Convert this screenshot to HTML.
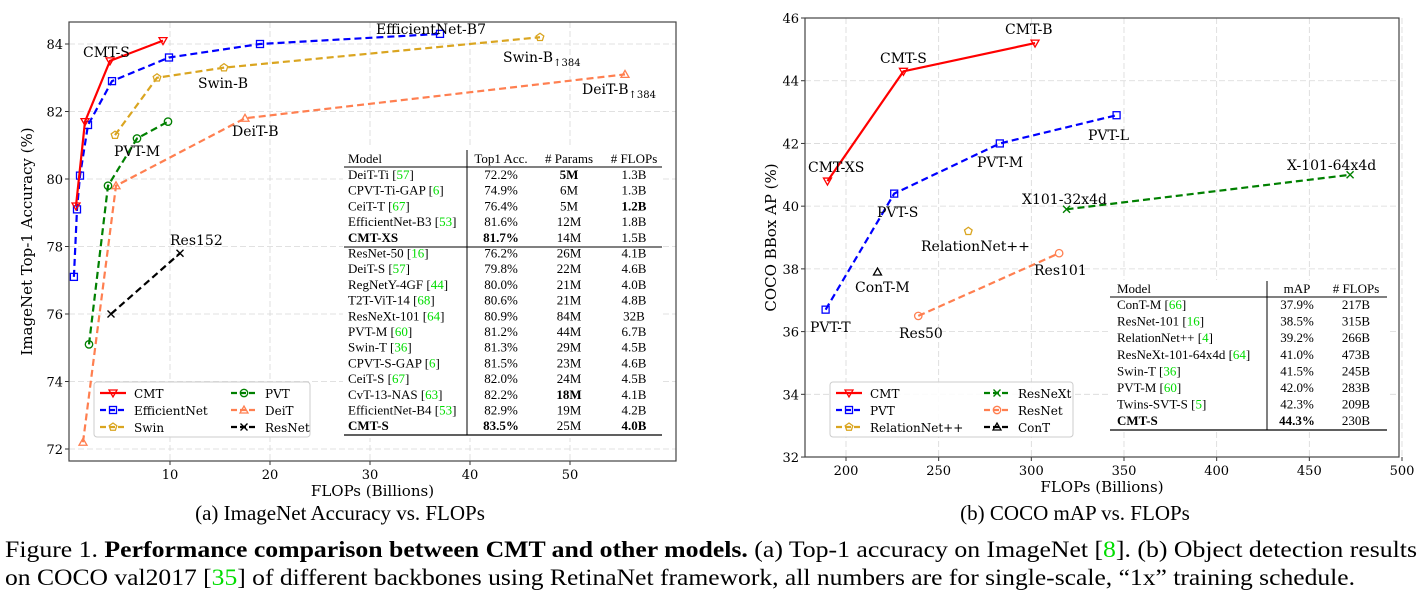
<!DOCTYPE html>
<html><head><meta charset="utf-8"><style>
body{margin:0;background:#fff;width:1422px;height:595px;overflow:hidden}
svg{display:block}
text{font-family:"Liberation Serif",serif}
.ann{font-family:"DejaVu Serif","Liberation Serif",serif;font-size:14px}
.tick{font-family:"DejaVu Serif","Liberation Serif",serif;font-size:13px}
.leg{font-family:"DejaVu Serif","Liberation Serif",serif;font-size:12px}
.axt{font-family:"DejaVu Serif","Liberation Serif",serif;font-size:15px}
.tb{font-size:13px}
.g{fill:#00dd00}
</style></head><body>
<svg id="fig" width="1422" height="595" viewBox="0 0 1422 595" xmlns="http://www.w3.org/2000/svg">
<g id="chartA"></g>
<g id="chartB"></g>
<text x="340" y="520" text-anchor="middle" font-size="21">(a) ImageNet Accuracy vs. FLOPs</text>
<text x="1075" y="520" text-anchor="middle" font-size="21">(b) COCO mAP vs. FLOPs</text>
<text x="5" y="557" font-size="23" textLength="1412" lengthAdjust="spacingAndGlyphs">Figure 1. <tspan font-weight="bold">Performance comparison between CMT and other models.</tspan> (a) Top-1 accuracy on ImageNet [<tspan class="g">8</tspan>]. (b) Object detection results</text>
<text x="5" y="585" font-size="23" textLength="1350" lengthAdjust="spacingAndGlyphs">on COCO val2017 [<tspan class="g">35</tspan>] of different backbones using RetinaNet framework, all numbers are for single-scale, “1x” training schedule.</text>
</svg>
<script>
// ---- Chart A data ----
const aCmtX=[0.6,1.5,4.0,9.3], aCmtY=[79.2,81.7,83.5,84.1];
const aEffX=[0.39,0.7,1.0,1.8,4.2,9.9,19,37], aEffY=[77.1,79.1,80.1,81.6,82.9,83.6,84.0,84.3];
const aSwinX=[4.5,8.7,15.4,47], aSwinY=[81.3,83.0,83.3,84.2];
const aPvtX=[1.9,3.8,6.7,9.8], aPvtY=[75.1,79.8,81.2,81.7];
const aDeitX=[1.3,4.6,17.5,55.5], aDeitY=[72.2,79.8,81.8,83.1];
const aResX=[4.1,11.0], aResY=[76.0,77.8];
const aXTicks=[10,20,30,40,50], aYTicks=[72,74,76,78,80,82,84];
// ---- Chart B data ----
const bCmtX=[190,231,302], bCmtY=[40.8,44.3,45.2];
const bPvtX=[189,226,283,346], bPvtY=[36.7,40.4,42.0,42.9];
const bRnxX=[319,472], bRnxY=[39.9,41.0];
const bResX=[239,315], bResY=[36.5,38.5];
const bRelX=[266], bRelY=[39.2];
const bConX=[217], bConY=[37.9];
const bXTicks=[200,250,300,350,400,450,500], bYTicks=[32,34,36,38,40,42,44,46];

const NS='http://www.w3.org/2000/svg';
function mk(p,tag,a,txt){const e=document.createElementNS(NS,tag);for(const k in a)e.setAttribute(k,a[k]);if(txt!==undefined)e.textContent=txt;p.appendChild(e);return e;}

function marker(g,type,x,y,c){
  let e;
  if(type==='tri_down') e=mk(g,'polygon',{points:`${x-4},${y-3} ${x+4},${y-3} ${x},${y+4}`,fill:'none',stroke:c,'stroke-width':1.3});
  else if(type==='tri_up') e=mk(g,'polygon',{points:`${x-4},${y+3} ${x+4},${y+3} ${x},${y-4}`,fill:'none',stroke:c,'stroke-width':1.3});
  else if(type==='sq') e=mk(g,'rect',{x:x-3.5,y:y-3.5,width:7,height:7,fill:'none',stroke:c,'stroke-width':1.3});
  else if(type==='circ') e=mk(g,'circle',{cx:x,cy:y,r:3.7,fill:'none',stroke:c,'stroke-width':1.3});
  else if(type==='pent') e=mk(g,'polygon',{points:[0,1,2,3,4].map(i=>{const a=-Math.PI/2+i*2*Math.PI/5;return (x+4*Math.cos(a))+','+(y+4*Math.sin(a));}).join(' '),fill:'none',stroke:c,'stroke-width':1.3});
  else {e=mk(g,'path',{d:`M${x-3.5},${y-3.5}L${x+3.5},${y+3.5}M${x-3.5},${y+3.5}L${x+3.5},${y-3.5}`,stroke:c,'stroke-width':1.4});}
  
  
}

function series(g,name,xs,ys,sx,sy,c,dash,type){
  const s=mk(g,'g',{});
  
  
  if(xs.length>1){
    const l=mk(s,'polyline',{points:xs.map((v,i)=>sx(v)+','+sy(ys[i])).join(' '),fill:'none',stroke:c,'stroke-width':2.2,'stroke-dasharray':dash?'7,4':'none'});
    
    
  }
  xs.forEach((v,i)=>marker(s,type,sx(v),sy(ys[i]),c));
}

function axes(g,L,R,T,B,sx,sy,xt,yt,ylab,ylx){
  for(const t of xt){
    mk(g,'line',{x1:sx(t),x2:sx(t),y1:T,y2:B,stroke:'#d8d8d8','stroke-dasharray':'6,3','stroke-width':0.8});
    mk(g,'line',{x1:sx(t),x2:sx(t),y1:B,y2:B+4,stroke:'#333'});
    const e=mk(g,'text',{x:sx(t),y:B+18,'text-anchor':'middle',class:'tick'},t);
    
    
  }
  for(const t of yt){
    mk(g,'line',{x1:L,x2:R,y1:sy(t),y2:sy(t),stroke:'#d8d8d8','stroke-dasharray':'6,3','stroke-width':0.8});
    mk(g,'line',{x1:L-4,x2:L,y1:sy(t),y2:sy(t),stroke:'#333'});
    const e=mk(g,'text',{x:L-6,y:sy(t)+5,'text-anchor':'end',class:'tick'},t);
    
    
  }
  const fr=mk(g,'rect',{x:L,y:T,width:R-L,height:B-T,fill:'none',stroke:'#444','stroke-width':1.2});
  
  
  const xl=mk(g,'text',{x:(L+R)/2,y:B+35,'text-anchor':'middle',class:'axt'},'FLOPs (Billions)');
  
  
  const yl=mk(g,'text',{x:0,y:0,'text-anchor':'middle',class:'axt',transform:`translate(${ylx},${(T+B)/2}) rotate(-90)`},ylab);
  
  
}

function ann(g,x,y,t,sub){
  const e=mk(g,'text',{x:x,y:y,class:'ann'},t);
  if(sub){mk(e,'tspan',{'font-size':10,dy:4},sub);}
  
  
}

function legend(g,x,y,w,items){
  const b=mk(g,'rect',{x:x,y:y,width:w,height:55,fill:'#fff',stroke:'#ccc',rx:3,'fill-opacity':0.9});
  
  
  items.forEach((it,i)=>{
    const cx=x+6+(i>=3?it.col:0), cy=y+11+(i%3)*17;
    const eg=mk(g,'g',{});
    
    
    mk(eg,'line',{x1:cx,x2:cx+26,y1:cy,y2:cy,stroke:it.c,'stroke-width':2.2,'stroke-dasharray':it.d?'6,3':'none'});
    marker(eg,it.m,cx+13,cy,it.c);
    mk(eg,'text',{x:cx+34,y:cy+5,class:'leg'},it.n);
  });
}

const RED='#ff0000',BLUE='#0000ff',GOLD='#daa520',GREEN='#008000',SAL='#ff7f50',BLK='#000';

// ---- Chart A ----
(function(){
  const g=document.getElementById('chartA');
  const L=69,R=676,T=22,B=461;
  const sx=v=>70+v*10, sy=v=>44+(84-v)*33.75;
  axes(g,L,R,T,B,sx,sy,aXTicks,aYTicks,'ImageNet Top-1 Accuracy (%)',32);
  series(g,'resnet',aResX,aResY,sx,sy,BLK,true,'x');
  series(g,'deit',aDeitX,aDeitY,sx,sy,SAL,true,'tri_up');
  series(g,'pvt',aPvtX,aPvtY,sx,sy,GREEN,true,'circ');
  series(g,'swin',aSwinX,aSwinY,sx,sy,GOLD,true,'pent');
  series(g,'efficientnet',aEffX,aEffY,sx,sy,BLUE,true,'sq');
  series(g,'cmt',aCmtX,aCmtY,sx,sy,RED,false,'tri_down');
  ann(g,83,57,'CMT-S');ann(g,376,34,'EfficientNet-B7');ann(g,503,62,'Swin-B','↑384');
  ann(g,198,88,'Swin-B');ann(g,582,94,'DeiT-B','↑384');ann(g,232,136,'DeiT-B');
  ann(g,114,156,'PVT-M');ann(g,170,245,'Res152');
  const tg=mk(g,'g',{});
  
  
  mk(tg,'rect',{x:343,y:148,width:320,height:290,fill:'#fff'});
  const rows=[['DeiT-Ti','57','72.2%','5M','1.3B',0,1,0],['CPVT-Ti-GAP','6','74.9%','6M','1.3B'],['CeiT-T','67','76.4%','5M','1.2B',0,0,1],['EfficientNet-B3','53','81.6%','12M','1.8B'],['CMT-XS','','81.7%','14M','1.5B',1],
  ['ResNet-50','16','76.2%','26M','4.1B'],['DeiT-S','57','79.8%','22M','4.6B'],['RegNetY-4GF','44','80.0%','21M','4.0B'],['T2T-ViT-14','68','80.6%','21M','4.8B'],['ResNeXt-101','64','80.9%','84M','32B'],['PVT-M','60','81.2%','44M','6.7B'],['Swin-T','36','81.3%','29M','4.5B'],['CPVT-S-GAP','6','81.5%','23M','4.6B'],['CeiT-S','67','82.0%','24M','4.5B'],['CvT-13-NAS','63','82.2%','18M','4.1B',0,1,0],['EfficientNet-B4','53','82.9%','19M','4.2B'],['CMT-S','','83.5%','25M','4.0B',1,0,1]];
  mk(tg,'text',{x:348,y:163,class:'tb','font-size':10},'Model');
  mk(tg,'text',{x:501,y:163,class:'tb','text-anchor':'middle','font-size':12},'Top1 Acc.');
  mk(tg,'text',{x:569,y:163,class:'tb','text-anchor':'middle','font-size':12},'# Params');
  mk(tg,'text',{x:634,y:163,class:'tb','text-anchor':'middle','font-size':12},'# FLOPs');
  mk(tg,'line',{x1:344,x2:662,y1:167,y2:167,stroke:'#000'});
  mk(tg,'line',{x1:344,x2:662,y1:247,y2:247,stroke:'#000'});
  mk(tg,'line',{x1:344,x2:662,y1:435,y2:435,stroke:'#000','stroke-width':1.3});
  mk(tg,'line',{x1:467,x2:467,y1:150,y2:435,stroke:'#000'});
  rows.forEach((r,i)=>{
    const y=179+i*15.7;
    const t=mk(tg,'text',{x:348,y:y,class:'tb','font-weight':r[5]?'bold':'normal'},r[0]+(r[1]?' [':''));
    if(r[1]){mk(t,'tspan',{class:'g'},r[1]);mk(t,'tspan',{},']');}
    mk(tg,'text',{x:501,y:y,class:'tb','text-anchor':'middle','font-weight':r[5]?'bold':'normal'},r[2]);
    mk(tg,'text',{x:569,y:y,class:'tb','text-anchor':'middle','font-weight':r[6]?'bold':'normal'},r[3]);
    mk(tg,'text',{x:634,y:y,class:'tb','text-anchor':'middle','font-weight':r[7]?'bold':'normal'},r[4]);
  });
  legend(g,94,382,216,[{n:'CMT',c:RED,m:'tri_down'},{n:'EfficientNet',c:BLUE,m:'sq',d:1},{n:'Swin',c:GOLD,m:'pent',d:1},{n:'PVT',c:GREEN,m:'circ',d:1,col:131},{n:'DeiT',c:SAL,m:'tri_up',d:1,col:131},{n:'ResNet',c:BLK,m:'x',d:1,col:131}]);
})();

// ---- Chart B ----
(function(){
  const g=document.getElementById('chartB');
  const L=805,R=1399,T=18,B=457;
  const sx=v=>846+(v-200)*1.8533, sy=v=>18+(46-v)*31.36;
  axes(g,L,R,T,B,sx,sy,bXTicks,bYTicks,'COCO BBox AP (%)',776);
  series(g,'resnet',bResX,bResY,sx,sy,SAL,true,'circ');
  series(g,'resnext',bRnxX,bRnxY,sx,sy,GREEN,true,'x');
  series(g,'relationnet',bRelX,bRelY,sx,sy,GOLD,true,'pent');
  series(g,'cont',bConX,bConY,sx,sy,BLK,true,'tri_up');
  series(g,'pvt',bPvtX,bPvtY,sx,sy,BLUE,true,'sq');
  series(g,'cmt',bCmtX,bCmtY,sx,sy,RED,false,'tri_down');
  ann(g,1005,34,'CMT-B');ann(g,880,63,'CMT-S');ann(g,808,172,'CMT-XS');ann(g,1088,140,'PVT-L');
  ann(g,977,167,'PVT-M');ann(g,1287,170,'X-101-64x4d');ann(g,1022,204,'X101-32x4d');ann(g,877,217,'PVT-S');
  ann(g,921,251,'RelationNet++');ann(g,1034,275,'Res101');ann(g,855,292,'ConT-M');ann(g,810,332,'PVT-T');ann(g,899,338,'Res50');
  const tg=mk(g,'g',{});
  
  
  mk(tg,'rect',{x:1110,y:280,width:278,height:152,fill:'#fff'});
  mk(tg,'text',{x:1117,y:293,class:'tb','font-size':10},'Model');
  mk(tg,'text',{x:1297,y:293,class:'tb','text-anchor':'middle','font-size':12},'mAP');
  mk(tg,'text',{x:1356,y:293,class:'tb','text-anchor':'middle','font-size':12},'# FLOPs');
  mk(tg,'line',{x1:1110,x2:1387,y1:297,y2:297,stroke:'#000'});
  mk(tg,'line',{x1:1110,x2:1387,y1:430,y2:430,stroke:'#000','stroke-width':1.3});
  mk(tg,'line',{x1:1267,x2:1267,y1:281,y2:430,stroke:'#000'});
  const rows=[['ConT-M','66','37.9%','217B'],['ResNet-101','16','38.5%','315B'],['RelationNet++','4','39.2%','266B'],['ResNeXt-101-64x4d','64','41.0%','473B'],['Swin-T','36','41.5%','245B'],['PVT-M','60','42.0%','283B'],['Twins-SVT-S','5','42.3%','209B'],['CMT-S','','44.3%','230B',1]];
  rows.forEach((r,i)=>{
    const y=309+i*16.6;
    const t=mk(tg,'text',{x:1117,y:y,class:'tb','font-weight':r[4]?'bold':'normal'},r[0]+(r[1]?' [':''));
    if(r[1]){mk(t,'tspan',{class:'g'},r[1]);mk(t,'tspan',{},']');}
    mk(tg,'text',{x:1297,y:y,class:'tb','text-anchor':'middle','font-weight':r[4]?'bold':'normal'},r[2]);
    mk(tg,'text',{x:1356,y:y,class:'tb','text-anchor':'middle'},r[3]);
  });
  legend(g,830,382,243,[{n:'CMT',c:RED,m:'tri_down'},{n:'PVT',c:BLUE,m:'sq',d:1},{n:'RelationNet++',c:GOLD,m:'pent',d:1},{n:'ResNeXt',c:GREEN,m:'x',d:1,col:148},{n:'ResNet',c:SAL,m:'circ',d:1,col:148},{n:'ConT',c:BLK,m:'tri_up',d:1,col:148}]);
})();
</script>
</body></html>
